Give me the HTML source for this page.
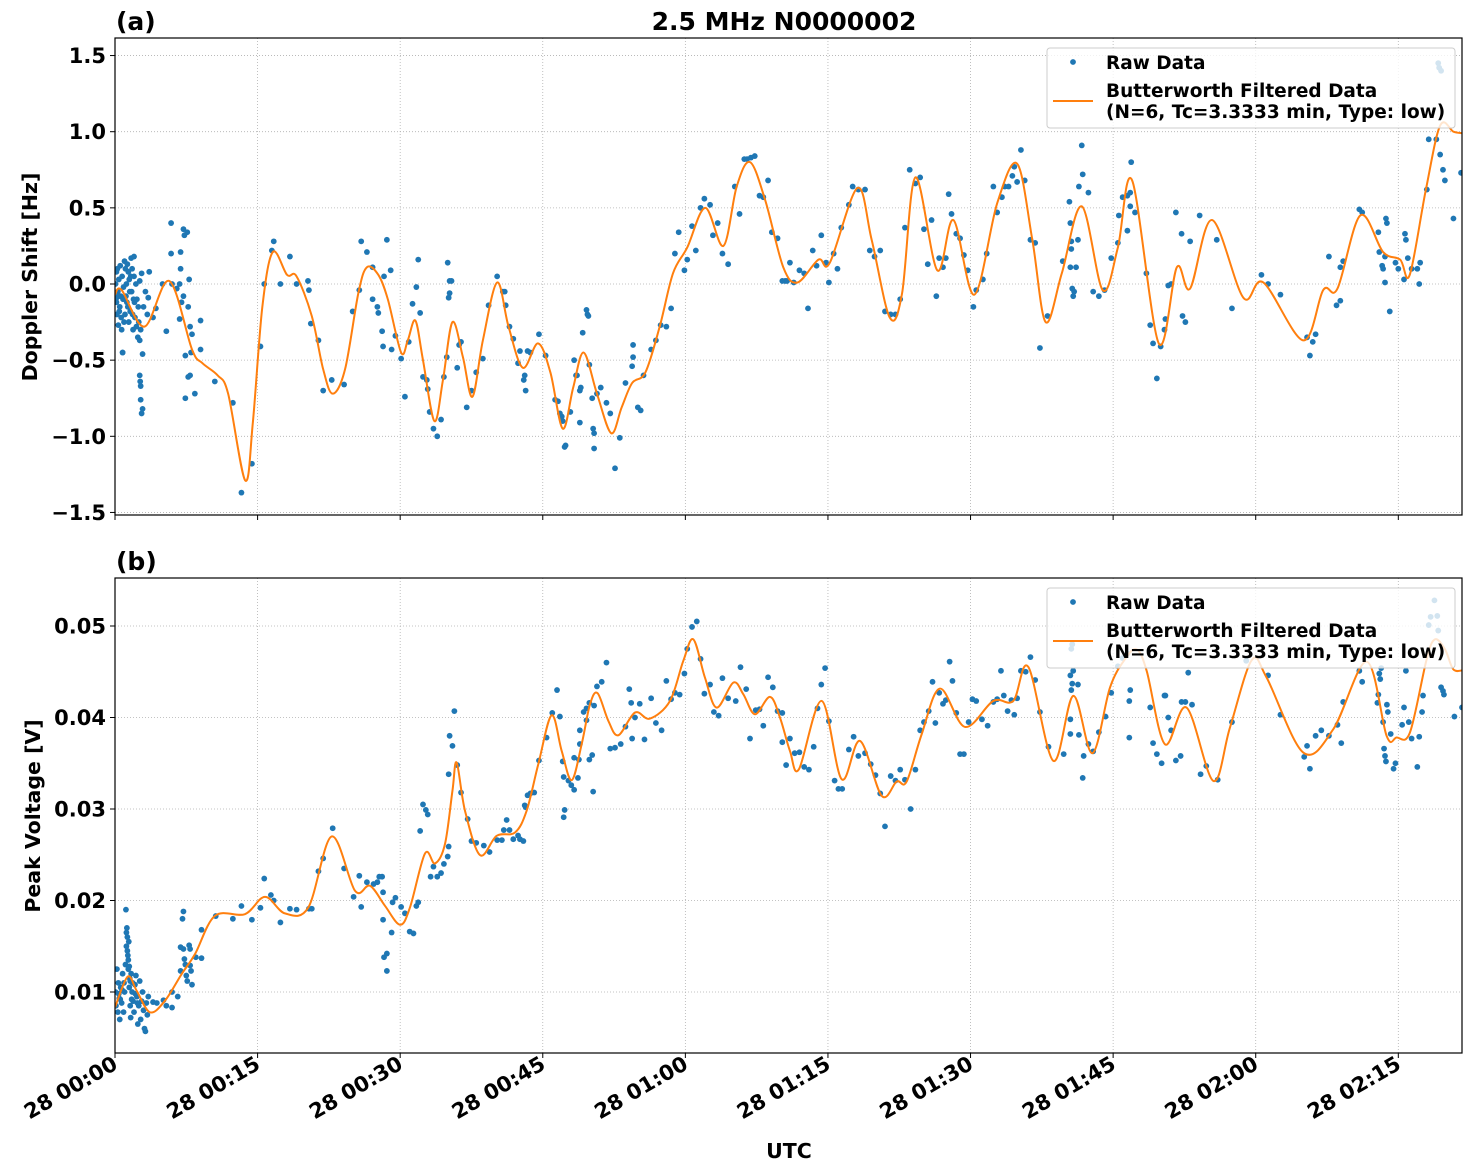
<!DOCTYPE html>
<html><head><meta charset="utf-8"><style>
html,body{margin:0;padding:0;background:#fff;}
svg{display:block;font-family:"DejaVu Sans","Liberation Sans",sans-serif;font-weight:bold;}
</style></head><body>
<svg id="chart" width="1472" height="1172" viewBox="0 0 1472 1172" xmlns="http://www.w3.org/2000/svg">
<defs>
<clipPath id="clipA"><rect x="115" y="38" width="1347" height="477"/></clipPath>
<clipPath id="clipB"><rect x="115" y="578" width="1347" height="475"/></clipPath>
</defs>
<text x="784" y="30" text-anchor="middle" font-size="25">2.5 MHz N0000002</text>
<text x="116" y="30" font-size="25">(a)</text>
<text x="116" y="570" font-size="25">(b)</text>
<text transform="translate(37,277) rotate(-90)" text-anchor="middle" font-size="20.5">Doppler Shift [Hz]</text>
<text transform="translate(40,816) rotate(-90)" text-anchor="middle" font-size="20.5">Peak Voltage [V]</text>
<text x="789" y="1158" text-anchor="middle" font-size="20.5">UTC</text>
<g id="gA"></g>
<g id="gB"></g>
</svg>
<script>
const xTickMinutes = [0,15,30,45,60,75,90,105,120,135];
const xTickLabels = ["28 00:00","28 00:15","28 00:30","28 00:45","28 01:00","28 01:15","28 01:30","28 01:45","28 02:00","28 02:15"];
const aYTicks = [-1.5,-1,-0.5,0,0.5,1,1.5];
const aYTickLabels = ["\u22121.5","\u22121.0","\u22120.5","0.0","0.5","1.0","1.5"];
const bYTicks = [0.01,0.02,0.03,0.04,0.05];
const bYTickLabels = ["0.01","0.02","0.03","0.04","0.05"];

const aClusterT = [0.05,0.1,0.15,0.2,0.25,0.3,0.35,0.4,0.5,0.55,0.6,0.7,0.75,0.8,0.9,1.0,1.05,1.1,1.2,1.25,1.3,1.4,1.45,1.5,1.6,1.7,1.75,1.8,1.9,2.0,2.1,2.2,2.3,2.4,2.5,2.6,2.7,3.0,3.2,0.15,0.45,0.65,0.85,1.15,1.35,1.55,1.85,2.05,2.25,2.45,1.65,1.95,0.35,0.95];
const aClusterV = [0.0,-0.1,0.08,-0.2,0.1,-0.05,-0.27,0.03,-0.15,0.12,-0.08,-0.3,0.05,-0.45,-0.02,0.15,-0.2,0.1,0.0,-0.12,0.13,0.08,-0.25,0.03,-0.18,0.17,-0.05,0.1,-0.3,0.05,-0.22,0.0,-0.1,-0.35,-0.25,0.02,-0.3,-0.15,-0.05,-0.12,-0.18,-0.22,-0.1,-0.08,-0.15,-0.05,-0.2,-0.12,-0.28,-0.15,0.05,-0.1,-0.08,-0.25];
const aRawPoints = [[2.6,-0.37],[2.6,-0.6],[2.65,-0.64],[2.7,-0.67],[2.7,-0.76],[2.8,-0.85],[2.9,-0.82],[2.9,-0.46],[2.0,0.18],[2.8,0.07],[3.6,0.08],[3.5,-0.09],[3.4,-0.2],[4.0,-0.22],[4.3,-0.16],[0.8,-0.45],
[5.0,0],[5.4,-0.31],[5.9,0.4],[5.9,0.2],[6.0,0],[6.5,-0.03],[6.8,0],[6.8,-0.23],[6.9,0.21],[6.9,0.1],[7.2,0.36],[7.3,0.32],[7.6,0.34],[7.2,-0.08],[7.0,-0.12],[7.7,-0.15],[7.8,0.03],[7.9,-0.28],[8.1,-0.33],[7.4,-0.47],[8.0,-0.45],[7.7,-0.61],[7.9,-0.6],[7.4,-0.75],[8.4,-0.72],[9.0,-0.24],[9.0,-0.43],[10.5,-0.64],[12.4,-0.78],[13.3,-1.37],[14.4,-1.18],[15.3,-0.41],[15.7,0],[16.5,0.22],[16.7,0.28],[17.4,0],[18.4,0.18],[19.1,0],[20.3,0.02],[20.4,-0.04],[20.6,-0.26],[21.4,-0.37],[21.9,-0.7],[22.8,-0.63],[24.1,-0.66],[25.0,-0.18],[25.7,-0.04],[25.9,0.28],[26.5,0.21],[27.1,0.11],[27.1,-0.1],[27.6,-0.15],[27.7,-0.19],[28.1,-0.31],[28.2,-0.41],[28.3,0.05],[28.6,0.29],[29.0,0.09],[29.1,-0.43],[29.5,-0.34],[30.1,-0.49],[30.5,-0.74],[30.9,-0.38],[31.3,-0.13],[31.7,-0.02],[31.9,0.16],[32.1,-0.19],[32.4,-0.61],[32.8,-0.63],[32.9,-0.69],[33.1,-0.84],[33.5,-0.95],[33.9,-1.0],[34.3,-0.89],[34.6,-0.61],[34.9,-0.48],[35.0,0.14],[35.1,-0.09],[35.2,0.02],[35.4,0.02],
[35.2,-0.06],[36.0,-0.55],[36.2,-0.4],[36.4,-0.38],[37.0,-0.81],[37.5,-0.7],[38.0,-0.58],[38.7,-0.49],[39.3,-0.14],[40.2,0.05],[40.8,-0.05],[41.0,-0.05],[41.1,-0.14],[41.5,-0.28],[41.9,-0.36],[42.4,-0.52],[42.6,-0.44],[43.0,-0.63],[43.1,-0.6],[43.2,-0.7],[43.4,-0.44],[43.7,-0.45],[44.6,-0.33],[45.3,-0.47],[46.3,-0.76],[46.6,-0.77],[46.8,-0.85],[47.0,-0.87],[47.1,-0.9],[47.3,-1.07],[47.4,-1.06],[47.9,-0.84],[48.3,-0.5],[48.5,-0.6],[48.6,-0.6],[48.9,-0.7],[48.9,-0.91],[49.0,-0.68],[49.2,-0.32],[49.6,-0.17],[49.7,-0.2],[49.8,-0.21],[49.9,-0.53],[50.2,-0.75],[50.3,-0.95],[50.4,-0.98],[50.4,-1.08],[50.7,-0.72],[51.1,-0.68],[51.7,-0.78],[52.1,-0.85],[52.6,-1.21],[53.1,-1.01],[53.7,-0.65],[54.4,-0.54],[54.5,-0.48],[54.5,-0.4],[55.0,-0.81],[55.3,-0.83],[55.6,-0.6],[56.4,-0.43],[56.9,-0.37],[57.4,-0.27],[58.0,-0.28],[58.5,-0.16],[58.9,0.2],[59.3,0.34],[59.9,0.09],[60.2,0.16],[60.7,0.38],[61.1,0.22],[61.6,0.5],[62.0,0.56],[62.6,0.52],[62.9,0.32],[63.4,0.4],[63.9,0.2],[64.5,0.13],[65.2,0.64],[65.7,0.46],[66.2,0.82],[66.5,0.82],[66.9,0.83],[67.3,0.84],[67.8,0.58],[68.2,0.57],[68.7,0.68],[69.1,0.34],[69.7,0.3],[70.2,0.02],[70.5,0.02],
[70.7,0.02],[71.0,0.14],[71.4,0.01],[72.0,0.09],[72.5,0.07],[72.9,-0.16],[73.4,0.22],[73.8,0.12],[74.3,0.32],[74.8,0.14],[75.1,0.01],[75.6,0.2],[76.0,0.1],[76.4,0.37],[77.2,0.52],[77.6,0.64],[78.2,0.62],[78.9,0.62],[79.4,0.22],[79.9,0.18],[80.5,0.22],[81.0,-0.18],[81.6,-0.2],[82.1,-0.2],[82.6,-0.1],[83.1,0.37],[83.6,0.75],[84.2,0.66],[84.7,0.7],[85.1,0.36],[85.5,0.13],[85.9,0.42],[86.4,-0.08],[86.7,0.17],[87.1,0.11],[87.4,0.17],[87.7,0.59],[88.0,0.46],[88.5,0.33],[88.9,0.3],[89.3,0.19],[89.7,0.09],[90.3,-0.15],[90.6,-0.04],[91.3,0.03],[91.7,0.2],[92.4,0.64],[92.8,0.47],[93.3,0.57],[93.6,0.64],[94.0,0.64],[94.4,0.71],[94.6,0.77],[94.9,0.67],[95.3,0.88],[95.7,0.68],[96.3,0.29],[96.8,0.27],[97.3,-0.42],[98.1,-0.21],[99.7,0.15],[100.4,0.54],[100.5,0.4],[100.5,0.11],[100.6,0.23],[100.6,0.28],[100.8,-0.08],[100.7,-0.03],[100.9,-0.05],[101.1,0.11],[101.3,0.29],[101.4,0.64],[101.7,0.91],[101.8,0.72],[102.4,0.6],[102.9,-0.05],[103.5,-0.08],[104.1,-0.04],[104.8,0.17],[105.5,0.27],[105.6,0.45],[106.0,0.57],
[106.5,0.58],[106.8,0.6],[106.8,0.51],[106.5,0.35],[106.9,0.8],[107.3,0.47],[108.5,0.07],[108.9,-0.27],[109.2,-0.39],[109.6,-0.62],[110.0,-0.41],[110.4,-0.3],[110.5,-0.23],[110.8,-0.01],[111.1,0.0],[111.6,0.47],[112.2,0.33],[112.3,-0.21],[112.6,-0.25],[113.1,0.28],[114.1,0.45],[115.9,0.29],[117.5,-0.16],[120.6,0.06],[121.3,0.0],[122.6,-0.07],[125.4,-0.35],[125.7,-0.47],[126.0,-0.38],[126.3,-0.33],[127.7,0.18],[128.5,-0.14],[128.9,-0.11],[128.9,0.11],[129.2,0.15],[130.9,0.49],[131.2,0.47],[132.9,0.34],[133.0,0.21],[133.3,0.12],[133.6,0.18],[133.7,0.43],[133.8,0.4],[133.4,0.1],[133.6,0.01],[134.1,-0.18],[134.7,0.14],[135.0,0.1],[135.6,0.03],[135.7,0.33],[135.8,0.29],[136.0,0.17],[136.4,0.1],[137.0,0.1],[137.2,0.0],[137.3,0.14],[138.0,0.62],[138.2,0.95],[139.0,0.95],[139.4,0.85],[139.7,0.75],[139.9,0.68],[140.8,0.43],[141.6,0.73],[139.2,1.45],[139.5,1.4],[139.3,1.42]];
const aFiltT = [0,0.7,3.1,5.7,8.1,9.2,10.8,11.9,13.7,14.5,15.5,16.6,18.1,19.1,20.7,21.9,22.9,24.2,25.6,26.5,27.7,28.7,30.1,30.8,31.6,32.4,33.6,34.5,35.5,36.6,37.6,38.7,40.2,41.4,42.9,44.5,45.8,47.1,48.2,49.3,50.7,52.2,53.3,54.4,55.8,57.3,58.7,60.2,62.1,64.0,65.4,66.8,68.4,70.3,71.8,74.0,75.2,78.1,79.6,81.5,82.8,84.2,86.5,88.2,90.4,92.8,94.9,96.5,97.9,99.6,101.7,103.9,105.5,107.0,109.8,111.7,113.1,115.4,118.7,120.8,125.0,127.1,128.6,131.0,133.4,135.2,136.2,137.9,139.4,140.8,141.7];
const aFiltV = [-0.07,-0.04,-0.28,0.02,-0.43,-0.52,-0.6,-0.72,-1.29,-0.91,-0.15,0.21,0.06,0.05,-0.21,-0.56,-0.72,-0.56,-0.06,0.11,0.06,-0.1,-0.45,-0.37,-0.24,-0.5,-0.9,-0.63,-0.25,-0.48,-0.74,-0.37,0.01,-0.28,-0.55,-0.39,-0.58,-0.95,-0.68,-0.45,-0.72,-0.98,-0.81,-0.65,-0.58,-0.28,0.07,0.24,0.5,0.25,0.64,0.8,0.55,0.11,0.01,0.16,0.14,0.63,0.29,-0.22,-0.06,0.7,0.09,0.42,-0.07,0.53,0.79,0.29,-0.25,0.07,0.51,-0.04,0.24,0.68,-0.39,0.11,-0.03,0.42,-0.09,0.01,-0.37,-0.04,-0.03,0.45,0.21,0.16,0.06,0.62,1.04,1.0,0.99];

const bClusterT = [0.05,0.1,0.2,0.3,0.35,0.45,0.5,0.6,0.7,0.8,0.9,1.0,1.1,1.15,1.2,1.25,1.3,1.35,1.4,1.45,1.5,1.55,1.6,1.65,1.7,1.8,1.9,2.0,2.1,2.2,2.3,2.4,2.5,2.6,2.7,2.8,2.9,3.0,3.1,3.2,3.3,3.4,3.5,1.2,1.3,1.4,1.5,1.6,0.4,0.55,0.75,0.95,1.75,1.85,2.15,2.35];
const bClusterV = [0.0100,0.0085,0.0125,0.0078,0.0110,0.0093,0.0070,0.0105,0.0088,0.0120,0.0078,0.0100,0.0130,0.0190,0.0150,0.0170,0.0160,0.0140,0.0125,0.0155,0.0105,0.0115,0.0085,0.0072,0.0120,0.0100,0.0090,0.0078,0.0108,0.0118,0.0095,0.0065,0.0085,0.0112,0.0070,0.0090,0.0100,0.0080,0.0060,0.0057,0.0088,0.0075,0.0095,0.0165,0.0145,0.0135,0.0128,0.0112,0.0098,0.0092,0.0102,0.0110,0.0092,0.0110,0.0098,0.0088];
const bRawPoints = [[4.0,0.0089],[4.4,0.0088],[5.1,0.0091],[5.4,0.0085],[6.0,0.0083],[6.0,0.0100],[6.6,0.0095],[6.9,0.0123],[6.9,0.0149],[7.1,0.0180],[7.2,0.0188],[7.3,0.0136],[7.2,0.0147],[7.4,0.0130],[7.5,0.0118],[7.6,0.0112],[7.8,0.0151],[7.9,0.0147],[8.0,0.0123],[8.1,0.0108],[7.9,0.0129],[8.5,0.0138],[9.1,0.0168],[9.1,0.0137],[10.6,0.0183],[12.4,0.0180],[13.3,0.0194],[14.4,0.0179],[15.3,0.0192],[15.7,0.0224],[16.4,0.0206],[16.7,0.0200],[17.4,0.0176],[18.4,0.0191],[19.1,0.0190],[20.4,0.0191],[20.7,0.0191],[21.4,0.0232],[21.9,0.0246],[22.9,0.0279],[24.1,0.0235],[25.1,0.0204],[25.7,0.0227],[25.9,0.0193],[26.5,0.0220],[27.2,0.0218],[27.6,0.0220],[27.8,0.0226],[28.1,0.0226],[28.2,0.0209],[28.2,0.0179],[28.3,0.0138],[28.6,0.0142],[28.6,0.0123],[29.1,0.0165],[29.2,0.0198],[29.5,0.0203],[30.1,0.0193],[30.5,0.0186],[31.0,0.0166],[31.4,0.0164],[31.7,0.0194],[31.9,0.0198],[32.1,0.0276],[32.4,0.0305],[32.7,0.0299],[32.9,0.0294],[33.2,0.0226],[33.5,0.0237],[33.9,0.0226],[34.3,0.0230],[34.6,0.0240],[35.0,0.0248],[35.1,0.0259],[35.1,0.0338],[35.2,0.0380],[35.5,0.0369],[35.7,0.0407],
[36.0,0.0348],[36.4,0.0318],[37.1,0.0289],[37.5,0.0265],[38.0,0.0263],[38.8,0.0260],[39.4,0.0253],[40.2,0.0266],[40.7,0.0266],[40.9,0.0277],[41.2,0.0288],[41.5,0.0277],[41.9,0.0267],[42.4,0.0271],[42.6,0.0267],[42.96,0.0265],[43.1,0.0304],[43.2,0.0302],[43.4,0.0315],[43.7,0.0317],[44.1,0.0318],[44.6,0.0353],[45.4,0.0378],[46.0,0.0405],[46.5,0.0430],[46.8,0.0401],[47.1,0.0352],[47.2,0.0335],[47.2,0.0291],[47.3,0.0299],[47.7,0.0331],[48.0,0.0326],[48.3,0.0321],[48.3,0.0356],[48.7,0.0334],[48.8,0.0354],[48.9,0.0386],[48.9,0.0371],[49.3,0.0406],[49.6,0.0397],[49.6,0.0410],[49.9,0.0416],[49.9,0.0354],[50.2,0.0359],[50.3,0.0319],[50.4,0.0413],[50.7,0.0434],[51.2,0.0439],[51.7,0.0460],[52.1,0.0366],[52.6,0.0367],[53.2,0.0371],[53.7,0.0390],[54.1,0.0431],[54.3,0.0416],[54.4,0.0377],[54.7,0.0400],[55.2,0.0415],[55.7,0.0376],[56.4,0.0421],[56.9,0.0394],[57.5,0.0386],[58.0,0.0440],[58.5,0.0420],[58.9,0.0427],[59.4,0.0425],[59.9,0.0448],[60.2,0.0475],[60.7,0.0499],[61.2,0.0505],[61.6,0.0464],[62.0,0.0426],[62.6,0.0436],[63.0,0.0406],[63.5,0.0402],[63.9,0.0443],[64.5,0.0421],[65.3,0.0418],[65.8,0.0455],[66.4,0.0431],[66.8,0.0377],[67.4,0.0408],[67.8,0.0409],[68.2,0.0391],[68.7,0.0444],[69.2,0.0433],[69.7,0.0407],[70.2,0.0405],[70.2,0.0373],[70.6,0.0348],[71.0,0.0377],
[71.5,0.0361],[72.0,0.0362],[72.5,0.0346],[73.0,0.0343],[73.5,0.0368],[73.9,0.0410],[74.3,0.0436],[74.7,0.0454],[75.1,0.0396],[75.7,0.0331],[76.1,0.0322],[76.5,0.0322],[77.2,0.0365],[77.7,0.0379],[78.2,0.0358],[78.9,0.0361],[79.5,0.0349],[80.0,0.0337],[80.5,0.0317],[81.0,0.0281],[81.6,0.0336],[82.1,0.0331],[82.6,0.0343],[83.1,0.0332],[83.7,0.0300],[84.2,0.0343],[84.7,0.0386],[85.1,0.0395],[85.6,0.0407],[86.0,0.0439],[86.3,0.0394],[86.7,0.0427],[87.1,0.0415],[87.4,0.0419],[87.8,0.0461],[88.1,0.0440],[88.5,0.0405],[88.9,0.0360],[89.3,0.0360],[89.8,0.0395],[90.2,0.0420],[90.6,0.0418],[91.2,0.0398],[91.8,0.0391],[92.4,0.0417],[92.8,0.0420],[93.2,0.0451],[93.5,0.0424],[93.9,0.0407],[94.3,0.0419],[94.6,0.0403],[94.9,0.0421],[95.3,0.0451],[95.8,0.0450],[96.3,0.0466],[96.8,0.0441],[97.3,0.0406],[98.2,0.0368],[99.8,0.0360],[100.5,0.0382],[100.5,0.0398],[100.6,0.0430],[100.7,0.0437],[100.8,0.0451],[100.5,0.0446],[100.6,0.0475],[100.7,0.0480],[101.3,0.0436],[101.4,0.0381],[101.8,0.0334],[101.9,0.0358],[102.4,0.0371],[102.9,0.0363],[103.5,0.0384],[104.2,0.0401],[104.8,0.0427],[105.5,0.0456],
[106.7,0.0418],[106.8,0.0430],[106.7,0.0378],[106.0,0.0465],[106.5,0.0470],[108.9,0.0411],[109.2,0.0372],[109.6,0.0360],[110.1,0.0350],[110.4,0.0424],[110.5,0.0424],[110.8,0.0400],[111.1,0.0386],[111.6,0.0353],[112.1,0.0358],[112.2,0.0417],[112.6,0.0417],[112.9,0.0449],[113.3,0.0414],[114.2,0.0338],[114.8,0.0347],[116.0,0.0332],[117.5,0.0395],[119.0,0.0462],[121.3,0.0446],[122.6,0.0403],[125.1,0.0357],[125.4,0.0369],[125.7,0.0344],[126.3,0.0380],[126.9,0.0386],[127.7,0.0380],[128.6,0.0392],[129.0,0.0372],[129.2,0.0417],[130.9,0.0451],[131.2,0.0439],[132.8,0.0416],[132.9,0.0425],[133.0,0.0448],[133.1,0.0442],[133.2,0.0454],[133.4,0.0395],[133.5,0.0366],[133.6,0.0358],[133.7,0.0352],[133.8,0.0414],[133.9,0.0406],[134.2,0.0382],[134.5,0.0344],[134.7,0.0350],[135.4,0.0392],[135.6,0.0411],[135.8,0.0451],[136.1,0.0395],[136.4,0.0377],[137.0,0.0346],[137.2,0.0379],[137.5,0.0406],[137.6,0.0424],[140.9,0.0401],[141.7,0.0411],[139.5,0.0433],[139.7,0.0429],[139.8,0.0425],[138.8,0.0528],[138.4,0.0510],[139.1,0.0511],[139.2,0.0495],[138.2,0.0501]];
const bFiltT = [0,1.33,2.28,3.68,5.26,7.01,8.42,10.52,13.67,15.78,17.88,20.34,22.79,25.25,26.82,28.4,29.98,31.03,32.61,33.66,34.71,35.5,35.94,36.82,38.4,40.15,42.08,43.3,44.53,45.93,46.99,48.04,49.09,49.97,50.77,51.9,52.95,54.7,56.28,58.38,59.78,60.84,62.06,63.29,65.04,66.1,67.32,68.9,69.95,71.0,71.95,74.34,76.44,78.37,80.65,82.23,83.28,84.86,86.78,89.41,92.39,94.5,96.08,98.71,100.81,102.81,104.67,106.24,107.47,108.53,110.45,112.73,115.54,117.29,119.57,121.15,125.0,128.16,131.67,133.77,134.82,136.22,137.98,138.85,139.91,140.78,141.8];
const bFiltV = [0.00832,0.01167,0.01014,0.00778,0.00905,0.01196,0.01415,0.01833,0.01851,0.0204,0.01859,0.01924,0.027,0.02106,0.02161,0.01942,0.01735,0.01924,0.02514,0.02405,0.02616,0.032,0.03508,0.0298,0.02496,0.02707,0.02743,0.0298,0.0349,0.04024,0.03635,0.03315,0.03708,0.04145,0.04265,0.03963,0.03806,0.04054,0.03988,0.04181,0.04618,0.04854,0.04436,0.04108,0.04381,0.04254,0.04035,0.04225,0.04,0.03635,0.03435,0.04181,0.03326,0.03744,0.03144,0.033,0.033,0.03817,0.04316,0.03897,0.04181,0.04181,0.04552,0.03526,0.04236,0.0361,0.04327,0.04636,0.04745,0.04509,0.03708,0.04108,0.03307,0.0389,0.04625,0.04436,0.03617,0.03872,0.0461,0.03799,0.03781,0.03835,0.04636,0.04854,0.04745,0.04527,0.04516];

const NS = "http://www.w3.org/2000/svg";
const X0 = 115, X1 = 1462, PX_PER_MIN = 9.506;
function xScale(t){ return X0 + t * PX_PER_MIN; }
function yScaleA(v){ return 284 - v * 152.3; }
function yScaleB(v){ return 626 + (0.05 - v) * 9150; }

function mk(tag, attrs, parent){
  const e = document.createElementNS(NS, tag);
  for (const k in attrs) e.setAttribute(k, attrs[k]);
  parent.appendChild(e);
  return e;
}
function splinePath(ts, vs, ys){
  const p = ts.map((t,i)=>[xScale(t), ys(vs[i])]);
  let d = "M" + p[0][0].toFixed(2) + "," + p[0][1].toFixed(2);
  for (let i=0;i<p.length-1;i++){
    const p0 = p[Math.max(0,i-1)], p1 = p[i], p2 = p[i+1], p3 = p[Math.min(p.length-1,i+2)];
    const c1x = p1[0] + (p2[0]-p0[0])/6, c1y = p1[1] + (p2[1]-p0[1])/6;
    const c2x = p2[0] - (p3[0]-p1[0])/6, c2y = p2[1] - (p3[1]-p1[1])/6;
    d += " C" + c1x.toFixed(2)+","+c1y.toFixed(2)+" "+c2x.toFixed(2)+","+c2y.toFixed(2)+" "+p2[0].toFixed(2)+","+p2[1].toFixed(2);
  }
  return d;
}

function drawPanel(g, top, bottom, ys, yTicks, yLabels, clipId, clusterT, clusterV, rawPts, filtT, filtV, showXLabels, key){
  xTickMinutes.forEach((m)=>{
    const gl = mk("line",{x1:xScale(m),x2:xScale(m),y1:top,y2:bottom,stroke:"#b0b0b0","stroke-width":0.8,"stroke-dasharray":"1,2"},g);
    
    
  });
  yTicks.forEach((v)=>{
    const gl = mk("line",{x1:X0,x2:X1,y1:ys(v),y2:ys(v),stroke:"#b0b0b0","stroke-width":0.8,"stroke-dasharray":"1,2"},g);
    
    
  });
  const pg = mk("g",{"clip-path":"url(#"+clipId+")"},g);
  
  
  clusterT.forEach((t,i)=>{
    const c = mk("circle",{cx:xScale(t),cy:ys(clusterV[i]),r:2.9,fill:"#1f77b4"},pg);
    
    
  });
  rawPts.forEach((pt)=>{
    const c = mk("circle",{cx:xScale(pt[0]),cy:ys(pt[1]),r:2.9,fill:"#1f77b4"},pg);
    
    
  });
  const line = mk("path",{d:splinePath(filtT,filtV,ys),fill:"none",stroke:"#ff7f0e","stroke-width":2,"clip-path":"url(#"+clipId+")"},g);
  
  
  const fr = mk("rect",{x:X0,y:top,width:X1-X0,height:bottom-top,fill:"none",stroke:"#000","stroke-width":1.2},g);
  
  
  yTicks.forEach((v,i)=>{
    const tk = mk("line",{x1:X0-5,x2:X0,y1:ys(v),y2:ys(v),stroke:"#000","stroke-width":1},g);
    
    
    const tx = mk("text",{x:X0-9,y:ys(v)+7.5,"text-anchor":"end","font-size":21},g);
    tx.textContent = yLabels[i];
    
    
  });
  xTickMinutes.forEach((m,i)=>{
    const tk = mk("line",{x1:xScale(m),x2:xScale(m),y1:bottom,y2:bottom+5,stroke:"#000","stroke-width":1},g);
    
    
    if (showXLabels){
      const tx = mk("text",{transform:"translate("+(xScale(m)+4)+","+(bottom+15)+") rotate(-30)","text-anchor":"end","font-size":21},g);
      tx.textContent = xTickLabels[i];
      
      
    }
  });
  const lg = mk("g",{},g);
  
  
  const ly = top + 10;
  mk("rect",{x:1047,y:ly,width:408,height:80,rx:3,fill:"rgba(255,255,255,0.8)",stroke:"#cccccc","stroke-width":1},lg);
  const ld = mk("circle",{cx:1073,cy:ly+14,r:2.9,fill:"#1f77b4"},lg);
  
  
  const lt1 = mk("text",{x:1106,y:ly+21,"font-size":18.5},lg);
  lt1.textContent = "Raw Data";
  
  
  const ll = mk("line",{x1:1053,x2:1093,y1:ly+53,y2:ly+53,stroke:"#ff7f0e","stroke-width":2},lg);
  
  
  const lt2 = mk("text",{x:1106,y:ly+49,"font-size":18.5},lg);
  lt2.textContent = "Butterworth Filtered Data";
  
  
  const lt3 = mk("text",{x:1106,y:ly+70,"font-size":18.5},lg);
  lt3.textContent = "(N=6, Tc=3.3333 min, Type: low)";
  
  
}

drawPanel(document.getElementById("gA"), 38, 515, yScaleA, aYTicks, aYTickLabels, "clipA", aClusterT, aClusterV, aRawPoints, aFiltT, aFiltV, false, "a");
drawPanel(document.getElementById("gB"), 578, 1053, yScaleB, bYTicks, bYTickLabels, "clipB", bClusterT, bClusterV, bRawPoints, bFiltT, bFiltV, true, "b");
</script>
</body></html>
